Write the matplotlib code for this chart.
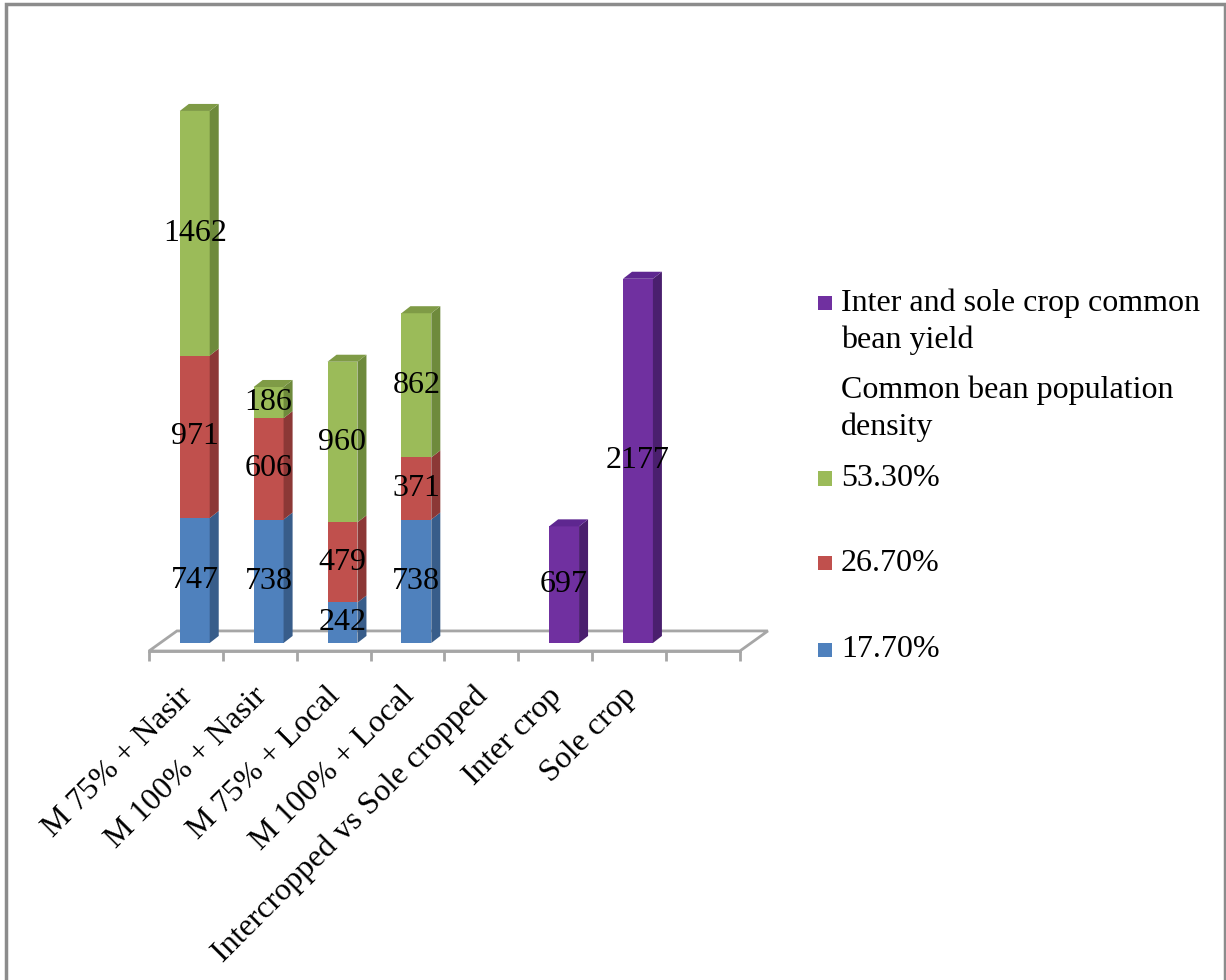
import numpy as np
import matplotlib.pyplot as plt
import matplotlib.transforms as mtransforms
from matplotlib.patches import Polygon, Rectangle

plt.rcParams['font.family'] = ['Liberation Serif', 'DejaVu Serif']

categories = ['M 75% + Nasir', 'M 100% + Nasir', 'M 75% + Local', 'M 100% + Local',
              'Intercropped vs Sole cropped', 'Inter crop', 'Sole crop', '']
density_labels = ['17.70%', '26.70%', '53.30%']
d177 = [747, 738, 242, 738, 0, 0, 0, 0]
d267 = [971, 606, 479, 371, 0, 0, 0, 0]
d533 = [1462, 186, 960, 862, 0, 0, 0, 0]
yield_label = 'Inter and sole crop common bean yield'
header_label = 'Common bean population density'
bean_yield = [0, 0, 0, 0, 0, 697, 2177, 0]

face = {'17.70%': '#4F81BD', '26.70%': '#C0504D', '53.30%': '#9BBB59', 'yield': '#7030A0'}
side = {'17.70%': '#385D8A', '26.70%': '#8C3836', '53.30%': '#6E8A3C', 'yield': '#4A1F6E'}
topc = {'17.70%': '#5F8DC4', '26.70%': '#A9423F', '53.30%': '#7F9B46', 'yield': '#5E2790'}

fs = 23
fig = plt.figure(figsize=(12.26, 9.8), dpi=100)
ax = fig.add_axes([0.1215, 0.3357, 0.482, 0.6057])
ax.set_xlim(-0.5, 7.5)
ax.set_ylim(-48, 3500)

x = np.arange(len(categories))
shift, width = 0.12, 0.405   # bar sits a little behind the front floor edge
ddx, ddy = 0.122, 42         # depth of bar sides
fdx, fdy = 0.379, 120        # depth of floor

# floor
floor = Polygon([(-0.5, -48), (7.5, -48), (7.5 + fdx, -48 + fdy), (-0.5 + fdx, -48 + fdy)],
                closed=True, facecolor='white', edgecolor='#A6A6A6', lw=2, zorder=1,
                clip_on=False)
ax.add_patch(floor)


def draw_bar(xc, bottom, h, key, top_face):
    if h <= 0:
        return
    xl = xc + shift - width / 2
    xr = xl + width
    ax.bar(xc + shift, h, width, bottom=bottom, color=face[key], lw=0, zorder=3)
    t = bottom + h
    ax.add_patch(Polygon([(xr, bottom), (xr, t), (xr + ddx, t + ddy), (xr + ddx, bottom + ddy)],
                         closed=True, facecolor=side[key], lw=0, zorder=3, clip_on=False))
    if top_face:
        ax.add_patch(Polygon([(xl, t), (xr, t), (xr + ddx, t + ddy), (xl + ddx, t + ddy)],
                             closed=True, facecolor=topc[key], lw=0, zorder=3, clip_on=False))


stack = [d177, d267, d533]
for i in range(len(categories)):
    b = 0
    nonzero = [k for k in range(3) if stack[k][i] > 0]
    for k in range(3):
        v = stack[k][i]
        if v > 0:
            draw_bar(x[i], b, v, density_labels[k], k == nonzero[-1])
            ax.text(x[i] + shift, b + v / 2, str(v), ha='center', va='center',
                    fontsize=fs, zorder=5)
        b += v
    if bean_yield[i] > 0:
        draw_bar(x[i], 0, bean_yield[i], 'yield', True)
        ax.text(x[i] + shift, bean_yield[i] / 2, str(bean_yield[i]), ha='center',
                va='center', fontsize=fs, zorder=5)

for s in ['left', 'top', 'right']:
    ax.spines[s].set_visible(False)
ax.spines['bottom'].set_color('#A6A6A6')
ax.spines['bottom'].set_linewidth(2)
ax.set_yticks([])
ax.set_xticks(x)
ax.set_xticklabels(categories, rotation=45, ha='right', va='top', rotation_mode='anchor',
                   fontsize=fs)
ax.tick_params(axis='x', which='major', length=0, pad=22)
ax.set_xticks(np.arange(-0.5, 8, 1), minor=True)
ax.tick_params(axis='x', which='minor', length=7, width=2, color='#A6A6A6')
off = mtransforms.ScaledTranslation(-8 / 100, 0, fig.dpi_scale_trans)
for lbl in ax.get_xticklabels():
    lbl.set_transform(lbl.get_transform() + off)

# legend drawn by hand to keep Excel spacing
leg = [('Inter and sole crop common\nbean yield', face['yield'], 0.672),
       ('Common bean population\ndensity', None, 0.583),
       ('53.30%', face['53.30%'], 0.512),
       ('26.70%', face['26.70%'], 0.4255),
       ('17.70%', face['17.70%'], 0.337)]
for text, col, yy in leg:
    if col is not None:
        sq_y = yy + (0.0194 if '\n' in text else 0)
        fig.patches.append(Rectangle((0.667, sq_y - 0.0075), 0.0115, 0.0145,
                                     transform=fig.transFigure, facecolor=col, lw=0))
    fig.text(0.686, yy, text, fontsize=fs, va='center', ha='left', linespacing=1.32)

fig.patches.append(Rectangle((0.005, -0.05), 0.994, 1.046, transform=fig.transFigure,
                             fill=False, edgecolor='#8C8C8C', lw=2.5))

fig.savefig('out.png', dpi=100)
